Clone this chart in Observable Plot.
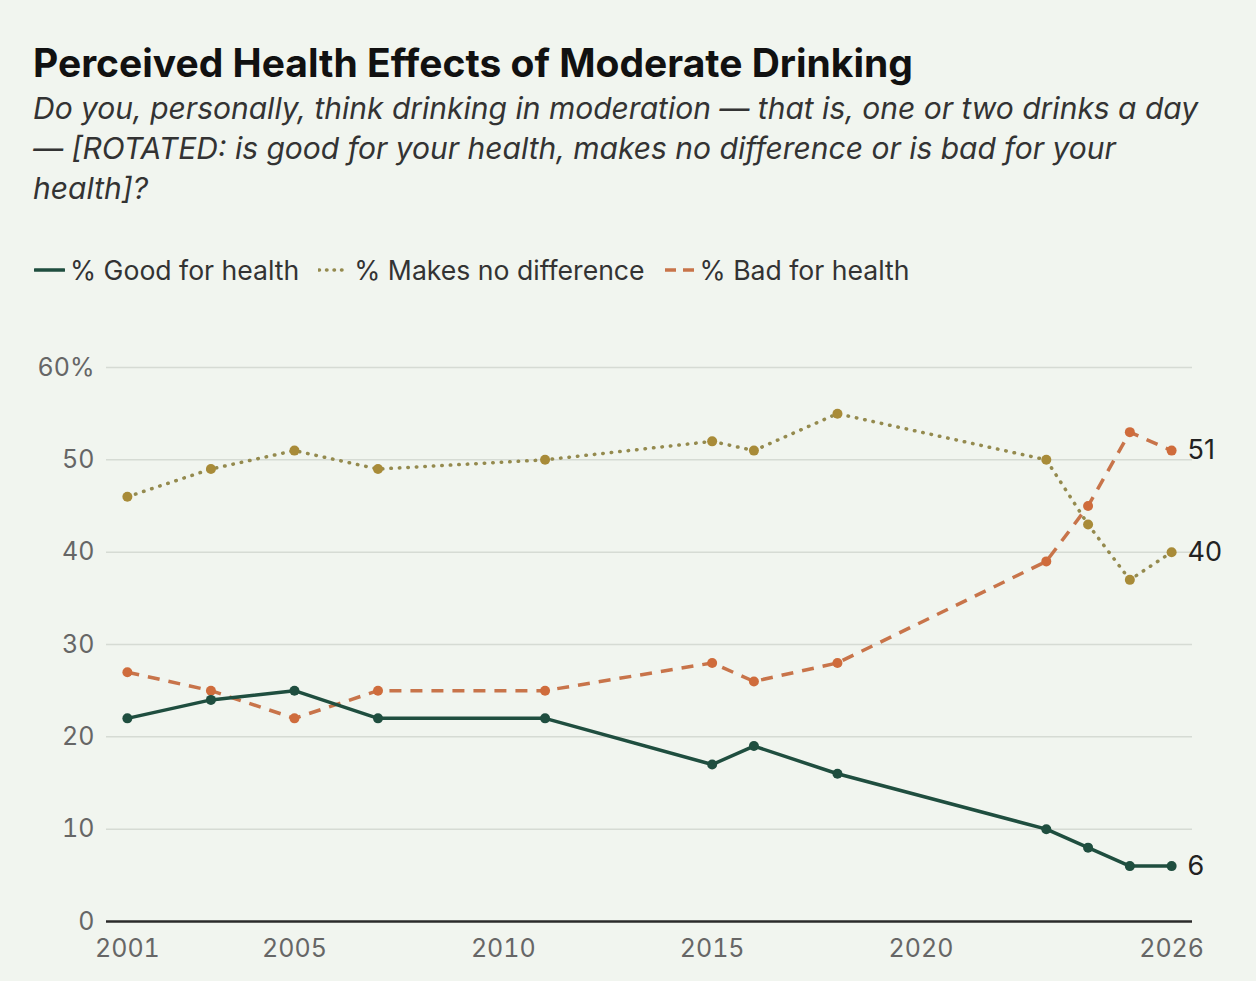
<!DOCTYPE html>
<html><head><meta charset="utf-8">
<script src="https://cdn.jsdelivr.net/npm/d3@7"></script>
<script src="https://cdn.jsdelivr.net/npm/@observablehq/plot@0.6"></script>
<style>
html,body{margin:0;padding:0;background:#f1f5ef;}
#wrap{position:relative;width:1256px;height:981px;font-family:Inter,"Noto Sans",sans-serif;overflow:hidden;}
#title{position:absolute;left:33px;top:39px;margin:0;font-size:39px;font-weight:700;color:#111;letter-spacing:0;}
#sub{position:absolute;left:33px;top:88px;width:1220px;margin:0;font-size:30px;font-style:italic;font-weight:400;color:#333;line-height:40px;white-space:nowrap;}
#legend{position:absolute;left:34px;top:254px;display:flex;align-items:center;font-size:26.6px;color:#333;}
.item{display:flex;align-items:center;margin-right:19px;}
.item svg{margin-right:5px;}
#chart{position:absolute;left:0;top:340px;}
</style></head>
<body><div id="wrap">
<h1 id="title">Perceived Health Effects of Moderate Drinking</h1>
<p id="sub">Do you, personally, think drinking in moderation — that is, one or two drinks a day<br>— [ROTATED: is good for your health, makes no difference or is bad for your<br>health]?</p>
<div id="legend"></div>
<div id="chart"></div>
</div>
<script>
const years = [2001, 2003, 2005, 2007, 2011, 2015, 2016, 2018, 2023, 2024, 2025, 2026];
const good = [22, 24, 25, 22, 22, 17, 19, 16, 10, 8, 6, 6];
const noDiff = [46, 49, 51, 49, 50, 52, 51, 55, 50, 43, 37, 40];
const bad = [27, 25, 22, 25, 25, 28, 26, 28, 39, 45, 53, 51];
const seriesNames = ["% Good for health", "% Makes no difference", "% Bad for health"];
const xTicks = [2001, 2005, 2010, 2015, 2020, 2026];
const yTicks = [0, 10, 20, 30, 40, 50, 60];

const styles = [
  {line: "#1f4e3f", dot: "#1f4e3f", dash: null, cap: "round"},
  {line: "#948a4e", dot: "#a88b38", dash: "0.5 8", cap: "round"},
  {line: "#c8744a", dot: "#cf6c3c", dash: "12 9", cap: "butt"}
];
const allVals = [good, noDiff, bad];

// legend
const legend = document.getElementById("legend");
seriesNames.forEach((name, i) => {
  const s = styles[i];
  const item = document.createElement("div");
  item.className = "item";
  item.innerHTML = `<svg width="31" height="10"><line x1="1" y1="5" x2="30" y2="5" stroke="${s.line}" stroke-width="3.5" stroke-linecap="${s.cap}" ${s.dash ? `stroke-dasharray="${i===2 ? '11 7' : '0.5 7'}"` : ''}/></svg><span>${name}</span>`;
  legend.appendChild(item);
});

const data = [];
allVals.forEach((vals, si) => years.forEach((y, j) => data.push({series: seriesNames[si], si, year: y, value: vals[j]})));

const marks = [
  Plot.gridY(yTicks.filter(d => d > 0), {stroke: "#d6dbd4", strokeOpacity: 1, strokeWidth: 1.5}),
  Plot.ruleY([0], {stroke: "#2b2b2b", strokeWidth: 2.5}),
  Plot.axisY({ticks: yTicks, tickSize: 0, tickPadding: 12, fontSize: 25, fill: "#666", label: null, tickFormat: d => d === 60 ? "60%" : String(d)}),
  Plot.axisX({ticks: xTicks, tickSize: 0, tickPadding: 18, fontSize: 25, fill: "#666", label: null, tickFormat: d => String(d)})
];
[2, 1, 0].forEach(si => {
  const s = styles[si];
  const d = data.filter(r => r.si === si);
  marks.push(Plot.line(d, {x: "year", y: "value", stroke: s.line, strokeWidth: 3.5, strokeDasharray: s.dash ?? undefined, strokeLinecap: s.cap, strokeLinejoin: "round"}));
  marks.push(Plot.dot(d, {x: "year", y: "value", r: 5, fill: s.dot, stroke: "none"}));
});
const lastYear = years[years.length - 1];
marks.push(Plot.text(data.filter(r => r.year === lastYear), {x: "year", y: "value", text: d => String(d.value), dx: 16, textAnchor: "start", fontSize: 27, fill: "#222"}));

const chart = Plot.plot({
  width: 1256,
  height: 640,
  marginLeft: 106,
  marginRight: 64,
  marginTop: 27,
  marginBottom: 59,
  x: {domain: [2000.5, 2026.5], label: null},
  y: {domain: [0, 60], label: null},
  style: {background: "transparent", fontFamily: "Inter, 'Noto Sans', sans-serif", fontSize: "25px", overflow: "visible"},
  marks
});
document.getElementById("chart").appendChild(chart);
</script>
</body></html>
